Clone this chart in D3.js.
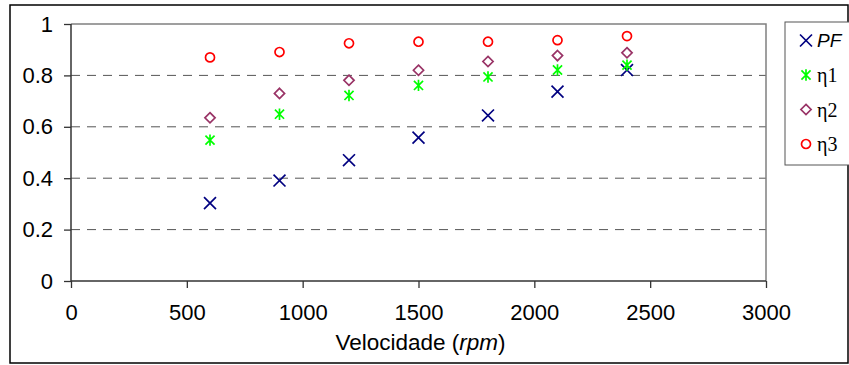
<!DOCTYPE html>
<html>
<head>
<meta charset="utf-8">
<script src="https://cdn.jsdelivr.net/npm/d3@7"></script>
<style>
  body { margin: 0; background: #fff; }
</style>
</head>
<body>
<script>
// velocidade (rpm)
let speeds = [600, 900, 1200, 1500, 1800, 2100, 2400];

let pf   = [0.303, 0.391, 0.470, 0.558, 0.644, 0.737, 0.821];
let eta1 = [0.548, 0.649, 0.722, 0.761, 0.794, 0.821, 0.840];
let eta2 = [0.635, 0.730, 0.781, 0.820, 0.854, 0.877, 0.888];
let eta3 = [0.870, 0.891, 0.925, 0.931, 0.931, 0.937, 0.953];

let xTicks = [0, 500, 1000, 1500, 2000, 2500, 3000];
let yTicks = [0, 0.2, 0.4, 0.6, 0.8, 1];

let width = 849;
let height = 365;
let margin = ({top: 24, right: 83, bottom: 85, left: 71});

let sans = "'Liberation Sans', Arial, sans-serif";
let serif = "'Liberation Serif', 'Times New Roman', serif";

// excel-like star marker: an x with a vertical bar through it
let symbolStar = {
  draw(context, size) {
    let r = Math.sqrt(size) * 0.5;
    let d = r * 0.8;
    context.moveTo(0, -r); context.lineTo(0, r);
    context.moveTo(-d, -d); context.lineTo(d, d);
    context.moveTo(-d, d); context.lineTo(d, -d);
  }
};

let series = [
  {name: "PF",  values: pf,   color: "#000080", symbol: d3.symbolTimes,    size: 95},
  {name: "η1", values: eta1, color: "#00ff00", symbol: symbolStar,        size: 130},
  {name: "η2", values: eta2, color: "#993366", symbol: d3.symbolDiamond2, size: 66},
  {name: "η3", values: eta3, color: "#ff0000", symbol: d3.symbolCircle,   size: 64}
];

let x = d3.scaleLinear()
  .domain([0, 3000])
  .range([margin.left, width - margin.right]);

let y = d3.scaleLinear()
  .domain([0, 1])
  .range([height - margin.bottom + 1, margin.top]);

let svg = d3.select("body")
  .append("svg")
  .attr("width", width)
  .attr("height", height)
  .attr("font-family", sans);

// outer frame
svg.append("rect")
  .attr("x", 10).attr("y", 5)
  .attr("width", 838).attr("height", 358)
  .attr("fill", "none")
  .attr("stroke", "#000")
  .attr("stroke-width", 1.5);

// grid lines
svg.append("g")
  .selectAll("line")
  .data(yTicks.filter(d => d > 0 && d < 1))
  .join("line")
    .attr("x1", x(0)).attr("x2", x(3000))
    .attr("y1", d => y(d)).attr("y2", d => y(d))
    .attr("stroke", "#555")
    .attr("stroke-dasharray", "9,7");

// plot area border (top + right)
svg.append("path")
  .attr("d", `M${x(0)},${y(1)}H${x(3000)}V${y(0)}`)
  .attr("fill", "none")
  .attr("stroke", "#808080")
  .attr("stroke-width", 1.5);

let xAxis = g => g
  .attr("transform", `translate(0,${y(0)})`)
  .call(d3.axisBottom(x).tickValues(xTicks).tickSize(7).tickPadding(16).tickFormat(d3.format("d")))
  .call(g => g.select(".domain").attr("stroke", "#333").attr("stroke-width", 1.5).attr("d", `M${x(0)},0H${x(3000)}`));

let yAxis = g => g
  .attr("transform", `translate(${x(0)},0)`)
  .call(d3.axisLeft(y).tickValues(yTicks).tickSize(7).tickPadding(11).tickFormat(d => d))
  .call(g => g.select(".domain").attr("stroke", "#333").attr("stroke-width", 1.5).attr("d", `M0,${y(0)}V${y(1)}`));

svg.append("g").call(xAxis);
svg.append("g").call(yAxis);

svg.selectAll(".tick text")
  .attr("font-size", 22)
  .attr("font-family", sans)
  .attr("fill", "#000");
svg.selectAll(".tick line").attr("stroke", "#333").attr("stroke-width", 1.3);

// x axis title
let title = svg.append("text")
  .attr("x", x(1500) + 2)
  .attr("y", 350)
  .attr("text-anchor", "middle")
  .attr("font-size", 22.5);
title.append("tspan").text("Velocidade (");
title.append("tspan").attr("font-style", "italic").text("rpm");
title.append("tspan").text(")");

// markers
series.forEach(s => {
  svg.append("g")
    .selectAll("path")
    .data(s.values)
    .join("path")
      .attr("transform", (d, i) => `translate(${x(speeds[i])},${y(d)})`)
      .attr("d", d3.symbol().type(s.symbol).size(s.size))
      .attr("fill", "none")
      .attr("stroke", s.color)
      .attr("stroke-width", 1.7);
});

// legend
let legend = svg.append("g");
legend.append("rect")
  .attr("x", 785).attr("y", 22)
  .attr("width", 70).attr("height", 143)
  .attr("fill", "#fff")
  .attr("stroke", "#555")
  .attr("stroke-width", 1);

let item = legend.selectAll("g.item")
  .data(series)
  .join("g")
    .attr("class", "item")
    .attr("transform", (d, i) => `translate(806,${40.5 + i * 34.5})`);

item.append("path")
  .attr("d", d => d3.symbol().type(d.symbol).size(d.size)())
  .attr("fill", "none")
  .attr("stroke", d => d.color)
  .attr("stroke-width", 1.7);

item.append("text")
  .attr("x", 11)
  .attr("y", d => d.name == "PF" ? 6 : 7)
  .attr("font-size", d => d.name == "PF" ? 19 : 20)
  .attr("font-style", d => d.name == "PF" ? "italic" : "normal")
  .attr("font-family", d => d.name == "PF" ? sans : serif)
  .text(d => d.name);
</script>
</body>
</html>
